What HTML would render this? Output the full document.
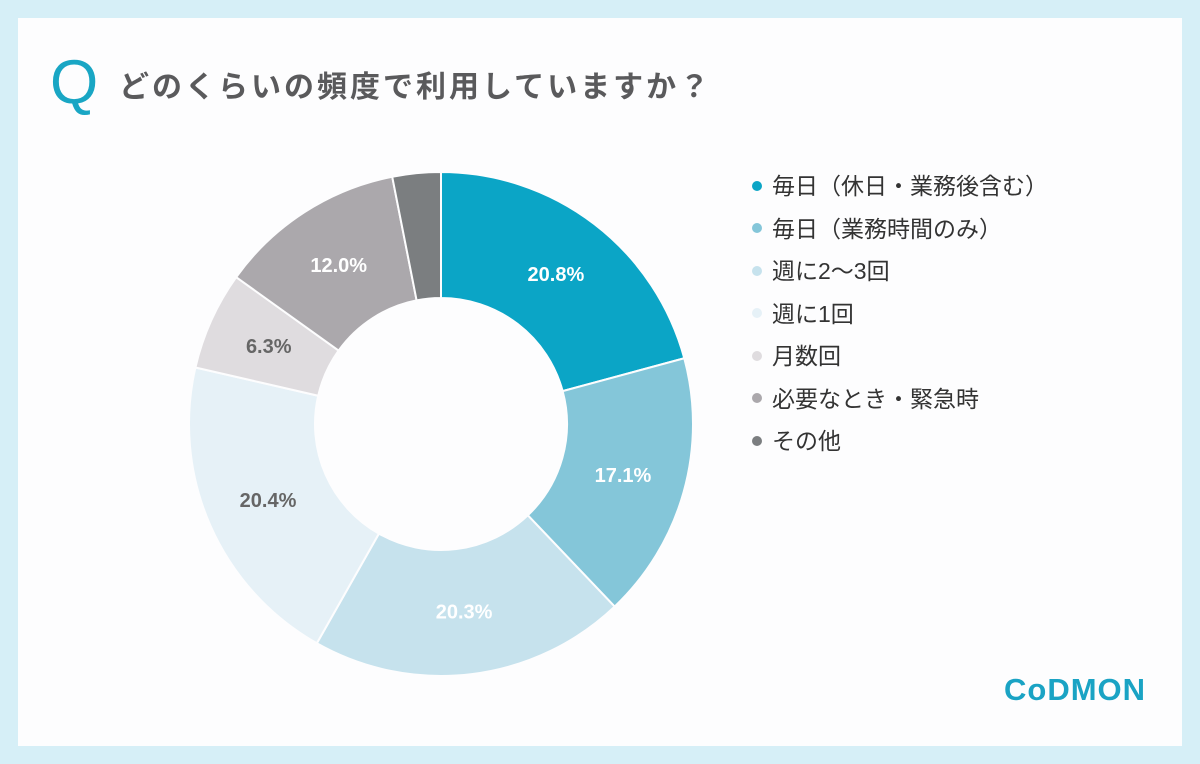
<!DOCTYPE html>
<html><head><meta charset="utf-8"><style>
body{margin:0;width:1200px;height:764px;background:#d6eff7;font-family:"Liberation Sans","Noto Sans CJK JP",sans-serif;overflow:hidden}
#panel{position:absolute;left:18px;top:18px;width:1164px;height:728px;background:#fdfdfe}
#q{position:absolute;left:50px;top:52px;font-size:62px;color:#19a6c4;font-weight:300;line-height:1}
#title{position:absolute;left:119px;top:62px;font-size:30px;font-weight:bold;color:#5a5a5c;letter-spacing:3px}
.leg{position:absolute;left:752px;font-size:23px;color:#333;white-space:nowrap;line-height:1}
.dot{display:inline-block;width:10px;height:10px;border-radius:50%;margin-right:10px;vertical-align:middle;position:relative;top:-2px}
#logo{position:absolute;left:1004px;top:672px;font-size:31px;font-weight:bold;color:#1aa3c4;letter-spacing:1px}
</style></head><body>
<div id="panel"></div>
<div id="q">Q</div>
<div id="title">どのくらいの頻度で利用していますか？</div>
<svg id="chart" width="1200" height="764" style="position:absolute;left:0;top:0"></svg>
<div id="legend"></div>
<div id="logo">CoDMON</div>
<script>
const categories=["毎日（休日・業務後含む）","毎日（業務時間のみ）","週に2〜3回","週に1回","月数回","必要なとき・緊急時","その他"];
const values=[20.8,17.1,20.3,20.4,6.3,12.0,3.1];
const labels=["20.8%","17.1%","20.3%","20.4%","6.3%","12.0%",""];
const colors=["#0ba5c6","#84c6d9","#c6e2ed","#e6f1f7","#dfdcdf","#aba8ac","#7b7e80"];
const labelColors=["#fff","#fff","#fff","#666","#666","#fff","#fff"];
const svg=document.getElementById('chart');
const cx=441,cy=424,R=252,r=126,ns="http://www.w3.org/2000/svg";
const total=values.reduce((a,b)=>a+b,0);
function pt(a,rad){return [cx+rad*Math.sin(a),cy-rad*Math.cos(a)];}
let acc=0;
values.forEach((v,i)=>{
  const a0=acc/total*2*Math.PI;acc+=v;const a1=acc/total*2*Math.PI;
  const lg=(a1-a0)>Math.PI?1:0;
  const [x0,y0]=pt(a0,R),[x1,y1]=pt(a1,R),[x2,y2]=pt(a1,r),[x3,y3]=pt(a0,r);
  const p=document.createElementNS(ns,'path');
  p.setAttribute('d',`M${x0},${y0}A${R},${R} 0 ${lg} 1 ${x1},${y1}L${x2},${y2}A${r},${r} 0 ${lg} 0 ${x3},${y3}Z`);
  p.setAttribute('fill',colors[i]);p.setAttribute('stroke','#fdfdfe');p.setAttribute('stroke-width','2');
  
  
  svg.appendChild(p);
  if(labels[i]){
    const [lx,ly]=pt((a0+a1)/2,189);
    const t=document.createElementNS(ns,'text');
    t.setAttribute('x',lx);t.setAttribute('y',ly+7);t.setAttribute('text-anchor','middle');
    t.setAttribute('font-size','20');t.setAttribute('font-weight','bold');t.setAttribute('fill',labelColors[i]);
    t.setAttribute('font-family','Liberation Sans, sans-serif');
    t.textContent=labels[i];
    
    
    svg.appendChild(t);
  }
});
const lg=document.getElementById('legend');
categories.forEach((c,i)=>{
  const d=document.createElement('div');d.className='leg';d.style.top=(175+i*42.5)+'px';
  d.innerHTML='<span class="dot" style="background:'+colors[i]+'"></span>'+c;
  
  
  lg.appendChild(d);
});
</script>
</body></html>
